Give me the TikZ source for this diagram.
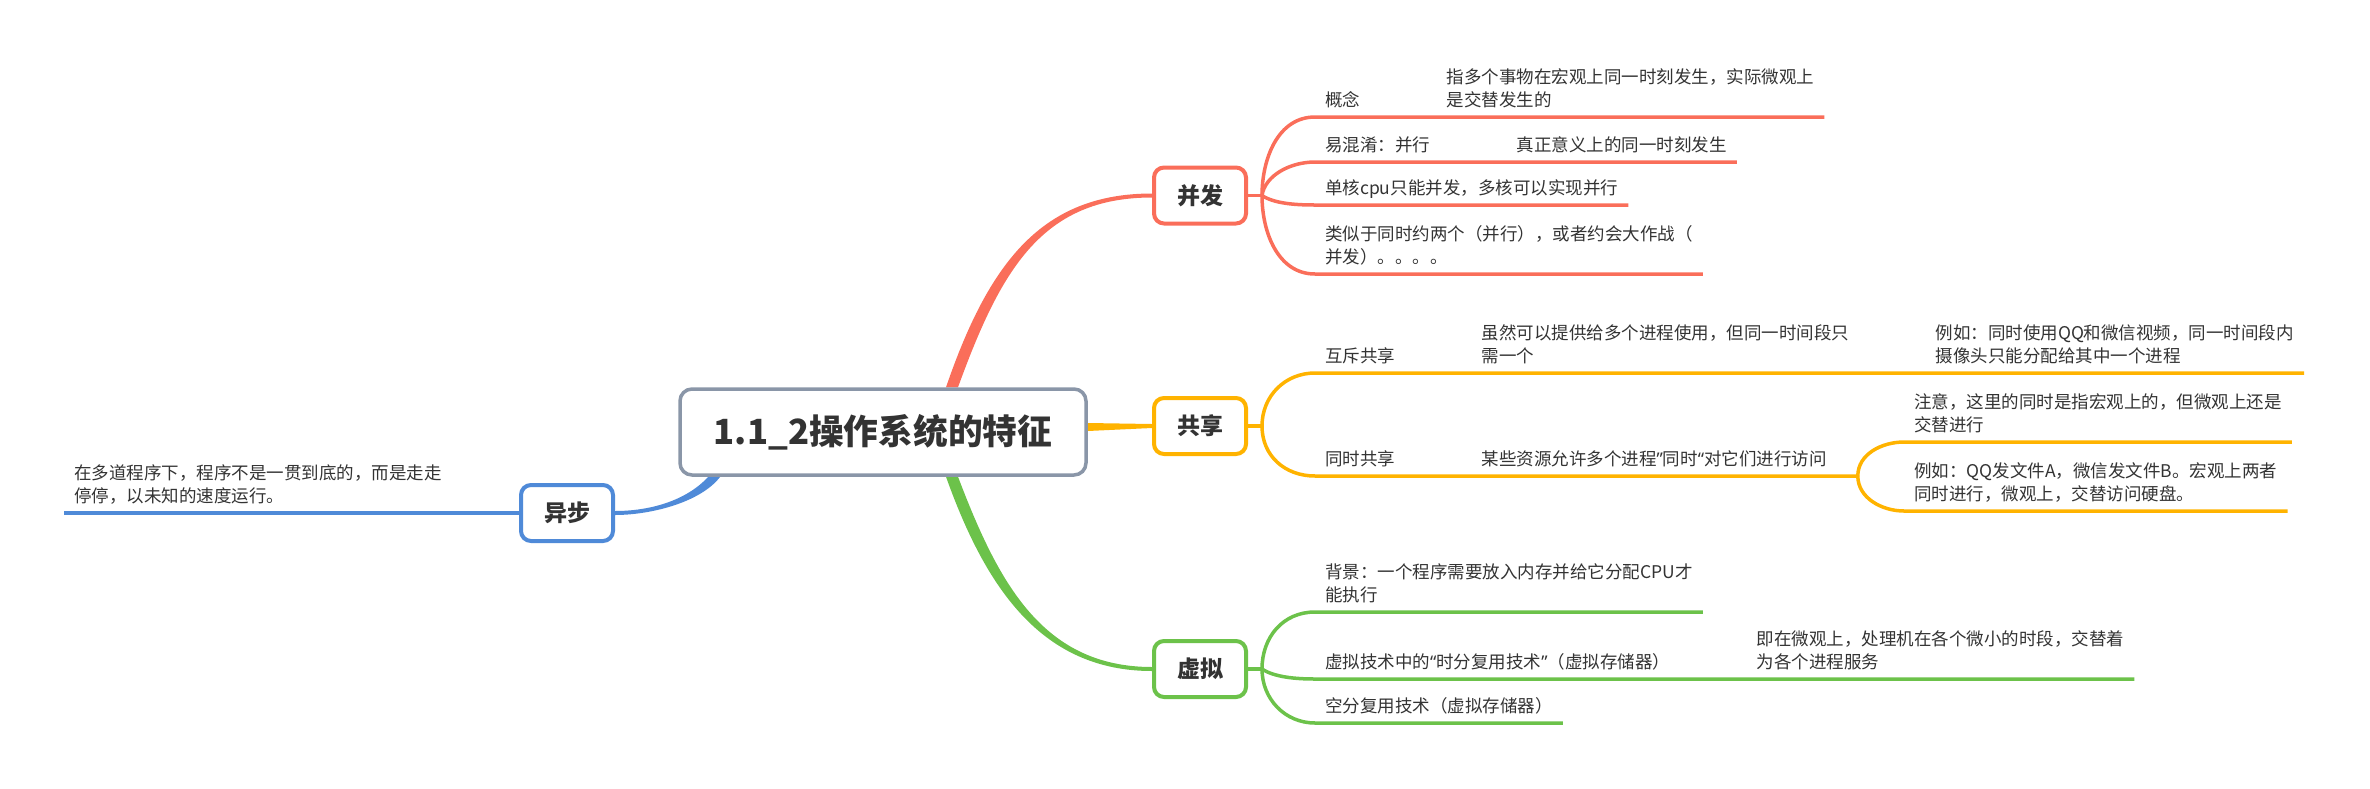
\documentclass[tikz,border=0pt]{standalone}
\usepackage{fontspec}
\setmainfont{Noto Sans CJK SC}
\newfontfamily\qfont{Noto Sans}
\newcommand\qL{{\qfont “}}
\newcommand\qR{{\qfont ”}}
\usetikzlibrary{positioning,backgrounds}

\definecolor{bingc}{HTML}{FA6E5A}
\definecolor{gongc}{HTML}{FFB300}
\definecolor{xuc}{HTML}{6CC24A}
\definecolor{yic}{HTML}{4F8AD8}
\definecolor{rootc}{HTML}{8A96A8}
\definecolor{textc}{HTML}{333333}

\begin{document}
\begin{tikzpicture}[
    x=1pt, y=-1pt,
    node distance=66pt,
    root/.style={draw=rootc, line width=3.5pt, fill=white, rounded corners=12pt,
      minimum width=406pt, minimum height=86pt, text=textc,
      font=\fontsize{34.7}{40}\selectfont\bfseries},
    branch/.style={draw=#1, line width=4pt, fill=white, rounded corners=10pt,
      minimum width=92pt, minimum height=56pt, text=textc,
      font=\fontsize{23}{28}\selectfont\bfseries},
    topic/.style={anchor=south west, align=left, inner xsep=10pt, inner ysep=3.6pt,
      text=textc, font=\fontsize{17.5}{23}\selectfont, execute at end node=\strut},
    link/.style={draw=#1, line width=3.5pt}
  ]
  \useasboundingbox (0,0) rectangle (2370,788);

  % main topics
  \node (root) [root] at (883,432) {1.1\_2操作系统的特征};
  \node (bing) [branch=bingc] at (1200,195.5) {并发};
  \node (gong) [branch=gongc] at (1200,426) {共享};
  \node (xu) [branch=xuc] at (1200,669) {虚拟};
  \node (yi) [branch=yic] at (567,513) {异步};

  % 并发
  \node (c1) [topic] at (1315,117) {概念};
  \node (c1a) [topic, right=of c1.south east, anchor=south west] {指多个事物在宏观上同一时刻发生，实际微观上\\是交替发生的};
  \node (c2) [topic] at (1315,162) {易混淆：并行};
  \node (c2a) [topic, right=of c2.south east, anchor=south west] {真正意义上的同一时刻发生};
  \node (c3) [topic] at (1315,205) {单核cpu只能并发，多核可以实现并行};
  \node (c4) [topic] at (1315,274) {类似于同时约两个（并行），或者约会大作战（\\并发）。。。。};

  % 共享
  \node (s1) [topic] at (1315,373) {互斥共享};
  \node (s1a) [topic, right=of s1.south east, anchor=south west] {虽然可以提供给多个进程使用，但同一时间段只\\需一个};
  \node (s1b) [topic, right=of s1a.south east, anchor=south west] {例如：同时使用QQ和微信视频，同一时间段内\\摄像头只能分配给其中一个进程};
  \node (s2) [topic] at (1315,476) {同时共享};
  \node (s2a) [topic, text width=366pt, right=of s2.south east, anchor=south west] {某些资源允许多个进程\qR 同时\qL 对它们进行访问};
  \node (s2b) [topic] at (1904,442) {注意，这里的同时是指宏观上的，但微观上还是\\交替进行};
  \node (s2c) [topic] at (1904,511) {例如：QQ发文件A，微信发文件B。宏观上两者\\同时进行，微观上，交替访问硬盘。};

  % 虚拟
  \node (v1) [topic] at (1315,612) {背景：一个程序需要放入内存并给它分配CPU才\\能执行};
  \node (v2) [topic] at (1315,679) {虚拟技术中的\qL 时分复用技术\qR （虚拟存储器）};
  \node (v2a) [topic, right=of v2.south east, anchor=south west] {即在微观上，处理机在各个微小的时段，交替着\\为各个进程服务};
  \node (v3) [topic] at (1315,723) {空分复用技术（虚拟存储器）};

  % 异步
  \node (a1) [topic] at (64,513) {在多道程序下，程序不是一贯到底的，而是走走\\停停，以未知的速度运行。};

  \begin{pgfonlayer}{background}
    % thick branches
    \fill[bingc] ([xshift=63pt]root.north) .. controls +(43,-125) and +(-110,0) .. ([yshift=2pt]bing.west)
      -- ([yshift=-2pt]bing.west) .. controls +(-110,0) and +(43,-118) .. ([xshift=75pt]root.north) -- cycle;
    \fill[gongc] ([yshift=9pt]root.east) -- ([yshift=2pt]gong.west) -- ([yshift=-2pt]gong.west) -- ([yshift=1pt]root.east) -- cycle;
    \fill[xuc] ([xshift=63pt]root.south) .. controls +(40,112) and +(-110,0) .. ([yshift=-2pt]xu.west)
      -- ([yshift=2pt]xu.west) .. controls +(-110,0) and +(40,105) .. ([xshift=75pt]root.south) -- cycle;
    \fill[yic] ([xshift=30pt]root.south west) .. controls +(-22,24) and +(35,0) .. ([yshift=2pt]yi.east)
      -- ([yshift=-2pt]yi.east) .. controls +(35,0) and +(-20,26) .. ([xshift=42pt]root.south west) -- cycle;

    % 并发 links
    \coordinate (fb) at ([xshift=14pt]bing.east);
    \draw[link=bingc] (bing.east) -- (fb);
    \draw[link=bingc] (fb) .. controls +(0,-37) and +(-37,0) .. (c1.south west) -- (c1.south east) -- (c1a.south west) -- (c1a.south east);
    \draw[link=bingc] (fb) .. controls +(3,-20) and +(-25,0) .. (c2.south west) -- (c2.south east) -- (c2a.south west) -- (c2a.south east);
    \draw[link=bingc] (fb) .. controls +(12,8) and +(-20,0) .. (c3.south west) -- (c3.south east);
    \draw[link=bingc] (fb) .. controls +(0,37) and +(-37,0) .. (c4.south west) -- (c4.south east);

    % 共享 links
    \coordinate (fg) at ([xshift=14pt]gong.east);
    \draw[link=gongc] (gong.east) -- (fg);
    \draw[link=gongc] (fg) .. controls +(0,-30) and +(-30,0) .. (s1.south west) -- (s1.south east) -- (s1a.south west) -- (s1a.south east) -- (s1b.south west) -- (s1b.south east);
    \draw[link=gongc] (fg) .. controls +(0,30) and +(-30,0) .. (s2.south west) -- (s2.south east) -- (s2a.south west) -- (s2a.south east);
    \draw[link=gongc] (s2a.south east) .. controls +(0,-22) and +(-22,0) .. (s2b.south west) -- (s2b.south east);
    \draw[link=gongc] (s2a.south east) .. controls +(0,22) and +(-22,0) .. (s2c.south west) -- (s2c.south east);

    % 虚拟 links
    \coordinate (fx) at ([xshift=14pt]xu.east);
    \draw[link=xuc] (xu.east) -- (fx);
    \draw[link=xuc] (fx) .. controls +(0,-32) and +(-32,0) .. (v1.south west) -- (v1.south east);
    \draw[link=xuc] (fx) .. controls +(12,8) and +(-20,0) .. (v2.south west) -- (v2.south east) -- (v2a.south west) -- (v2a.south east);
    \draw[link=xuc] (fx) .. controls +(0,30) and +(-30,0) .. (v3.south west) -- (v3.south east);

    % 异步 link
    \draw[link=yic] (yi.west) -- (a1.south east) -- (a1.south west);
  \end{pgfonlayer}

\end{tikzpicture}
\end{document}
